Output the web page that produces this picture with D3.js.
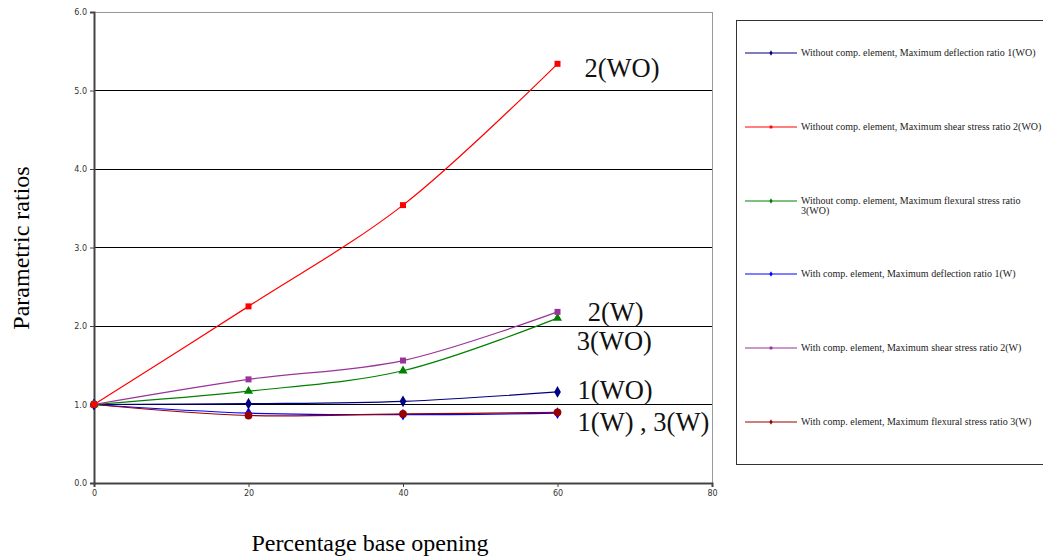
<!DOCTYPE html>
<html><head><meta charset="utf-8">
<script src="https://cdn.jsdelivr.net/npm/d3@7"></script>
<style>body{margin:0;background:#fff;}svg{display:block;}</style>
</head><body>
<svg id="c" width="1043" height="556"></svg>
<script>
const xValues = [0, 20, 40, 60];
const yTicks = [0, 1, 2, 3, 4, 5, 6];
const xTicks = [0, 20, 40, 60, 80];
const s1WO = [1.0, 1.01, 1.04, 1.16];
const s2WO = [1.0, 2.25, 3.54, 5.34];
const s3WO = [1.0, 1.17, 1.43, 2.10];
const s1W = [1.0, 0.89, 0.87, 0.89];
const s2W = [1.0, 1.32, 1.56, 2.18];
const s3W = [1.0, 0.86, 0.88, 0.90];
const seriesNames = [
  "Without comp. element, Maximum deflection ratio 1(WO)",
  "Without comp. element, Maximum shear stress ratio 2(WO)",
  "Without comp. element, Maximum flexural stress ratio 3(WO)",
  "With comp. element, Maximum deflection ratio 1(W)",
  "With comp. element, Maximum shear stress ratio 2(W)",
  "With comp. element, Maximum flexural stress ratio 3(W)"
];
const annotations = [
  {t:"2(WO)", x:63.5, y:5.17},
  {t:"2(W)", x:63.9, y:2.06},
  {t:"3(WO)", x:62.5, y:1.7},
  {t:"1(WO)", x:62.6, y:1.07},
  {t:"1(W) , 3(W)", x:62.6, y:0.66}
];

const series = [
  {name:seriesNames[3], v:s1W, color:"#0000ff", marker:"diamond"},
  {name:seriesNames[5], v:s3W, color:"#990000", marker:"circle"},
  {name:seriesNames[0], v:s1WO, color:"#000080", marker:"diamond"},
  {name:seriesNames[2], v:s3WO, color:"#008000", marker:"triangle"},
  {name:seriesNames[4], v:s2W, color:"#993399", marker:"square"},
  {name:seriesNames[1], v:s2WO, color:"#ff0000", marker:"square"}
];
const legendOrder = [2, 5, 3, 0, 4, 1];

const svg = d3.select("#c");
const L = 94, R = 712, T = 12, B = 483;
const x = d3.scaleLinear().domain([0, 80]).range([L, R]);
const y = d3.scaleLinear().domain([0, 6]).range([B, T]);

// gridlines
svg.append("g").selectAll("line").data(yTicks.filter(d => d > 0)).join("line")
  .attr("x1", L).attr("x2", R).attr("y1", d => y(d)).attr("y2", d => y(d))
  .attr("stroke", d => d === 6 ? "#999" : "#000").attr("stroke-width", 1).attr("shape-rendering","crispEdges");
// right border
svg.append("line").attr("x1", R).attr("x2", R).attr("y1", T).attr("y2", B)
  .attr("stroke", "#999").attr("shape-rendering","crispEdges");

// axes
const yAxis = svg.append("g").attr("transform", `translate(${L},0)`)
  .call(d3.axisLeft(y).tickValues(yTicks).tickFormat(d3.format(".1f")).tickSize(4).tickPadding(3));
const xAxis = svg.append("g").attr("transform", `translate(0,${B})`)
  .call(d3.axisBottom(x).tickValues(xTicks).tickSize(4).tickPadding(3));
[yAxis, xAxis].forEach(a => {
  a.select(".domain").attr("stroke", "#444").attr("stroke-width", 2);
  a.selectAll(".tick line").attr("stroke", "#444");
  a.selectAll("text").attr("font-family", "DejaVu Sans, Verdana, sans-serif").attr("font-size", 8).attr("fill", "#333");
});

// lines
const line = d3.line().x((d, i) => x(xValues[i])).y(d => y(d)).curve(d3.curveCatmullRom.alpha(0.5));
function marker(g, type, cx, cy, color, size) {
  if (type === "diamond") {
    g.append("path").attr("d", d3.symbol(d3.symbolDiamond, size * 1.1)()).attr("transform", `translate(${cx},${cy})`).attr("fill", color);
  } else if (type === "circle") {
    g.append("circle").attr("cx", cx).attr("cy", cy).attr("r", Math.sqrt(size / Math.PI) + 0.5).attr("fill", color);
  } else if (type === "triangle") {
    g.append("path").attr("d", d3.symbol(d3.symbolTriangle, size)()).attr("transform", `translate(${cx},${cy})`).attr("fill", color);
  } else {
    g.append("path").attr("d", d3.symbol(d3.symbolSquare, size)()).attr("transform", `translate(${cx},${cy})`).attr("fill", color);
  }
}
series.forEach(s => {
  svg.append("path").datum(s.v).attr("d", line).attr("fill", "none").attr("stroke", s.color).attr("stroke-width", 1.2);
  const g = svg.append("g");
  s.v.forEach((v, i) => marker(g, s.marker, x(xValues[i]), y(v), s.color, 36));
});

// annotations
svg.append("g").selectAll("text").data(annotations).join("text")
  .attr("x", d => x(d.x)).attr("y", d => y(d.y))
  .attr("font-family", "Liberation Serif, Times New Roman, serif").attr("font-size", 26.5).attr("fill", "#111")
  .text(d => d.t);

// axis titles
svg.append("text").attr("transform", "translate(29,248) rotate(-90)").attr("text-anchor", "middle")
  .attr("font-family", "Liberation Serif, Times New Roman, serif").attr("font-size", 24).text("Parametric ratios");
svg.append("text").attr("x", 370).attr("y", 551).attr("text-anchor", "middle")
  .attr("font-family", "Liberation Serif, Times New Roman, serif").attr("font-size", 24).text("Percentage base opening");

// legend
svg.append("rect").attr("x", 736.5).attr("y", 20.5).attr("width", 320).attr("height", 444)
  .attr("fill", "none").attr("stroke", "#333").attr("stroke-width", 1);
const legY = [53, 127, 201, 274, 348, 422];
legendOrder.forEach((si, k) => {
  const s = series[si];
  const yy = legY[k];
  svg.append("line").attr("x1", 745).attr("x2", 797).attr("y1", yy).attr("y2", yy).attr("stroke", s.color).attr("stroke-width", 1.2);
  const g = svg.append("g");
  marker(g, s.marker === "square" ? "square" : "diamond", 771, yy, s.color, 8);
  const t = svg.append("text").attr("x", 801).attr("y", yy + 3)
    .attr("font-family", "Liberation Serif, Times New Roman, serif").attr("font-size", 10).attr("fill", "#222");
  if (k === 2) {
    t.append("tspan").attr("x", 801).text("Without comp. element, Maximum flexural stress ratio");
    t.append("tspan").attr("x", 801).attr("dy", 10).text("3(WO)");
  } else {
    t.text(s.name);
  }
});
</script>
</body></html>
